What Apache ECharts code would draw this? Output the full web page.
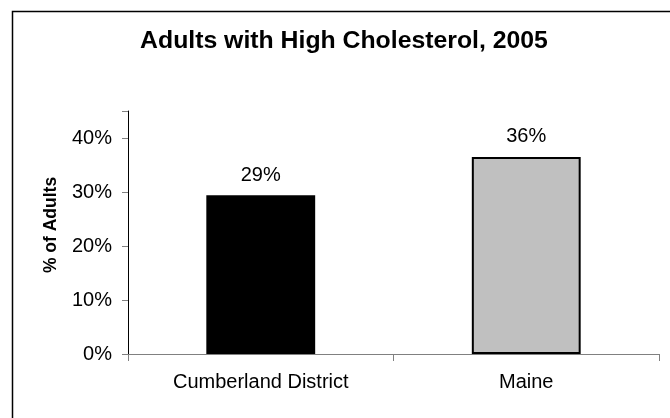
<!DOCTYPE html>
<html><head><meta charset="utf-8">
<script src="https://cdn.jsdelivr.net/npm/echarts@6/dist/echarts.min.js"></script>
<style>html,body{margin:0;padding:0;background:#fff}#c{width:670px;height:418px}</style>
</head><body><div id="c"></div>
<script>
const categories = ['Cumberland District', 'Maine'];
const values = [29.4, 36.5];
const labels = ['29%', '36%'];
const yTicks = [0, 10, 20, 30, 40];
const titleText = 'Adults with High Cholesterol, 2005';
const yName = '% of Adults';

const chart = echarts.init(document.getElementById('c'));
chart.setOption({
  animation: false,
  backgroundColor: '#fff',
  graphic: [{
    type: 'rect', shape: { x: 12.5, y: 11.5, width: 720, height: 520 },
    style: { fill: 'none', stroke: '#000', lineWidth: 1.5 }, silent: true
  }, {
    type: 'text', x: 344, y: 41,
    style: { text: titleText, fill: '#000', font: 'bold 24.8px "Liberation Sans"', textAlign: 'center', textVerticalAlign: 'middle' }
  }, {
    type: 'text', x: 51, y: 225, rotation: Math.PI / 2,
    style: { text: yName, fill: '#000', font: 'bold 17.5px "Liberation Sans"', textAlign: 'center', textVerticalAlign: 'middle' }
  }],
  grid: { left: 128, right: 11, top: 111, bottom: 64 },
  xAxis: {
    type: 'category', data: categories,
    axisLine: { lineStyle: { color: '#808080', width: 1 } },
    axisTick: { show: true, length: 7, alignWithLabel: false, interval: 0, lineStyle: { color: '#808080' } },
    axisLabel: { fontFamily: 'Liberation Sans', fontSize: 20, color: '#000', margin: 18 }
  },
  yAxis: {
    type: 'value', min: 0, max: 45, interval: 10,
    axisLine: { show: true, lineStyle: { color: '#000', width: 1 } },
    axisTick: { show: true, inside: false, length: 6, lineStyle: { color: '#808080' } },
    splitLine: { show: false },
    axisLabel: {
      fontFamily: 'Liberation Sans', fontSize: 20, color: '#000', margin: 16,
      formatter: v => yTicks.includes(v) ? v + '%' : ''
    }
  },
  series: [{
    type: 'bar', barWidth: '41%',
    data: values.map((v, i) => ({
      value: v,
      itemStyle: i === 0 ? { color: '#000' } : { color: '#c0c0c0', borderColor: '#000', borderWidth: 2 }
    })),
    label: {
      show: true, position: 'top', distance: 10,
      fontFamily: 'Liberation Sans', fontSize: 20, color: '#000',
      formatter: p => labels[p.dataIndex]
    }
  }]
});
</script></body></html>
